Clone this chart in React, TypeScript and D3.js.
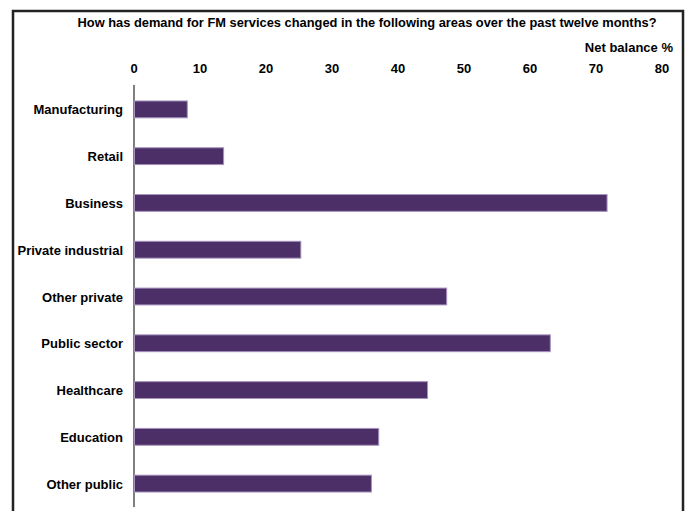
import React from "react";
import * as d3 from "d3";

const categories = [
  "Manufacturing",
  "Retail",
  "Business",
  "Private industrial",
  "Other private",
  "Public sector",
  "Healthcare",
  "Education",
  "Other public",
];
const values = [8.0, 13.5, 71.6, 25.2, 47.3, 63.0, 44.4, 37.0, 35.9];
const ticks = [0, 10, 20, 30, 40, 50, 60, 70, 80];
const title = "How has demand for FM services changed in the following areas over the past twelve months?";
const unitLabel = "Net balance %";

const W = 686;
const H = 511;

export default function App() {
  const x = d3.scaleLinear().domain([0, 80]).range([134, 662]);
  const y = d3
    .scaleBand<string>()
    .domain(categories)
    .range([86, 507])
    .paddingInner(0.64)
    .paddingOuter(0.32);
  const font = "'Liberation Sans', Arial, sans-serif";
  return (
    <svg
      width={W}
      height={H}
      style={{ position: "absolute", left: 0, top: 0, background: "#fff" }}
      fontFamily={font}
    >
      <rect x={13} y={11} width={670} height={520} fill="none" stroke="#222" strokeWidth={2.5} />
      <text
        x={367}
        y={27}
        textAnchor="middle"
        fontSize={13}
        fontWeight="bold"
        textLength={579}
        lengthAdjust="spacingAndGlyphs"
      >
        {title}
      </text>
      <text x={673} y={52} textAnchor="end" fontSize={13} fontWeight="bold">
        {unitLabel}
      </text>
      {ticks.map((t) => (
        <text key={t} x={x(t)} y={73} textAnchor="middle" fontSize={13} fontWeight="bold">
          {t}
        </text>
      ))}
      <line x1={x(0)} x2={x(0)} y1={85} y2={507} stroke="#000" strokeWidth={1} />
      {categories.map((c, i) => (
        <g key={c}>
          <rect
            x={x(0) + 0.5}
            y={y(c)!}
            width={x(values[i]) - x(0)}
            height={y.bandwidth()}
            fill="#4d2f68"
            stroke="#a693bd"
            strokeWidth={1}
          />
          <text
            x={123}
            y={y(c)! + y.bandwidth() / 2 + 5}
            textAnchor="end"
            fontSize={13}
            fontWeight="bold"
          >
            {c}
          </text>
        </g>
      ))}
    </svg>
  );
}
